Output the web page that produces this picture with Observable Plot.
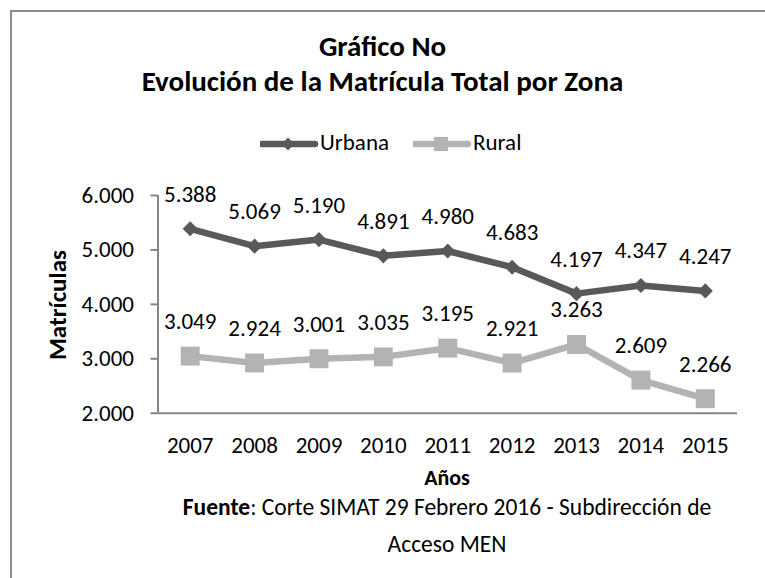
<!DOCTYPE html>
<html>
<head>
<meta charset="utf-8">
<script src="https://cdn.jsdelivr.net/npm/d3@7"></script>
<script src="https://cdn.jsdelivr.net/npm/@observablehq/plot@0.6"></script>
<style>
  html, body { margin: 0; padding: 0; background: #fff; }
  #wrap { position: relative; width: 765px; height: 578px; overflow: hidden; background: #fff;
          font-family: Carlito, Calibri, Lato, sans-serif; color: #000; }
  #frame { position: absolute; left: 10px; top: 10px; width: 800px; height: 620px;
           border: 2px solid #8c8c8c; box-sizing: border-box; }
  .txt { position: absolute; white-space: nowrap; line-height: 1.2; }
  .t1 { line-height: 1; }
  .center { left: 0; width: 765px; text-align: center; }
  #chart { position: absolute; left: 0; top: 170px; }
  #legend { position: absolute; top: 126.6px; left: 0; width: 765px; height: 32px; }
  .lg { position: absolute; top: 0; height: 32px; display: flex; align-items: center; font-size: 23px; line-height: 1.2; }
</style>
</head>
<body>
<div id="wrap">
  <div id="frame"></div>
  <div class="txt center" style="top:29.4px;font-size:29px;font-weight:bold;">Gráfico No</div>
  <div class="txt center" style="top:64.4px;font-size:29px;font-weight:bold;">Evolución de la Matrícula Total por Zona</div>
  <div id="legend"></div>
  <div id="chart"></div>
  <div class="txt" style="left:-41.7px;width:200px;top:290px;height:30px;text-align:center;font-size:25px;font-weight:bold;transform:rotate(-90deg);">Matrículas</div>
  <div class="txt t1" style="left:157px;width:580px;text-align:center;top:467px;font-size:22px;font-weight:bold;">Años</div>
  <div class="txt t1" style="left:157px;width:580px;text-align:center;top:496px;font-size:23.5px;"><b>Fuente</b>: Corte SIMAT 29 Febrero 2016 - Subdirección de</div>
  <div class="txt t1" style="left:157px;width:580px;text-align:center;top:533px;font-size:23.5px;">Acceso MEN</div>
</div>
<script>
// ---- data ----
const years = [2007, 2008, 2009, 2010, 2011, 2012, 2013, 2014, 2015];
const urbana = [5388, 5069, 5190, 4891, 4980, 4683, 4197, 4347, 4247];
const rural = [3049, 2924, 3001, 3035, 3195, 2921, 3263, 2609, 2266];
const seriesNames = ["Urbana", "Rural"];
const yTicks = [2000, 3000, 4000, 5000, 6000];

const colors = { Urbana: "#595959", Rural: "#b3b3b3" };
const symbols = { Urbana: d3.symbolDiamond2, Rural: d3.symbolSquare };

const data = [
  ...years.map((y, i) => ({ year: y, value: urbana[i], serie: "Urbana" })),
  ...years.map((y, i) => ({ year: y, value: rural[i], serie: "Rural" }))
];

const loc = d3.formatLocale({ decimal: ",", thousands: ".", grouping: [3], currency: ["$", ""] });
const fmt = loc.format(",d");

const chart = Plot.plot({
  width: 765,
  height: 310,
  marginLeft: 157.5,
  marginRight: 28,
  marginTop: 25,
  marginBottom: 67.3,
  style: { fontFamily: "Carlito, Calibri, Lato, sans-serif", background: "transparent", color: "#000" },
  x: { type: "linear", domain: [2006.5, 2015.5] },
  y: { domain: [2000, 6000] },
  marks: [
    Plot.ruleX([2006.5], { stroke: "#868686", strokeWidth: 2 }),
    Plot.ruleY([2000], { stroke: "#868686", strokeWidth: 2 }),
    Plot.axisY({ ticks: yTicks, tickFormat: fmt, tickSize: 7, tickPadding: 17, stroke: "#868686", strokeWidth: 2, fontSize: 23, fill: "#000", label: null }),
    Plot.axisX({ ticks: years, tickFormat: d => String(d), tickSize: 0, tickPadding: 23, fontSize: 23, fill: "#000", label: null }),
    Plot.line(data, { x: "year", y: "value", z: "serie", stroke: d => colors[d.serie], strokeWidth: 6.5, strokeLinejoin: "round" }),
    Plot.dot(data.filter(d => d.serie === "Urbana"), { x: "year", y: "value", symbol: () => d3.symbolDiamond2, r: 6.8, fill: colors.Urbana, stroke: "none" }),
    Plot.dot(data.filter(d => d.serie === "Rural"), { x: "year", y: "value", symbol: () => d3.symbolSquare, r: 10.7, fill: colors.Rural, stroke: "none" }),
    Plot.text(data, { x: "year", y: "value", text: d => fmt(d.value), dy: -34.4, fontSize: 23, fill: "#000", lineAnchor: "middle" })
  ]
});
document.getElementById("chart").appendChild(chart);

// ---- legend ----
const legend = document.getElementById("legend");
const legendPos = { Urbana: 260, Rural: 413 };
seriesNames.forEach(name => {
  const item = document.createElement("div");
  item.className = "lg";
  item.style.left = legendPos[name] + "px";
  const sw = d3.create("svg").attr("width", 60).attr("height", 32);
  sw.append("line").attr("x1", 2).attr("x2", 55).attr("y1", 17).attr("y2", 17)
    .attr("stroke", colors[name]).attr("stroke-width", 6.5).attr("stroke-linecap", "round");
  const sym = d3.symbol().type(symbols[name]).size(name === "Urbana" ? 110 : 200);
  sw.append("path").attr("d", sym()).attr("transform", "translate(28,17)").attr("fill", colors[name]);
  item.appendChild(sw.node());
  const label = document.createElement("span");
  label.textContent = name;
  item.appendChild(label);
  legend.appendChild(item);
});
</script>
</body>
</html>
